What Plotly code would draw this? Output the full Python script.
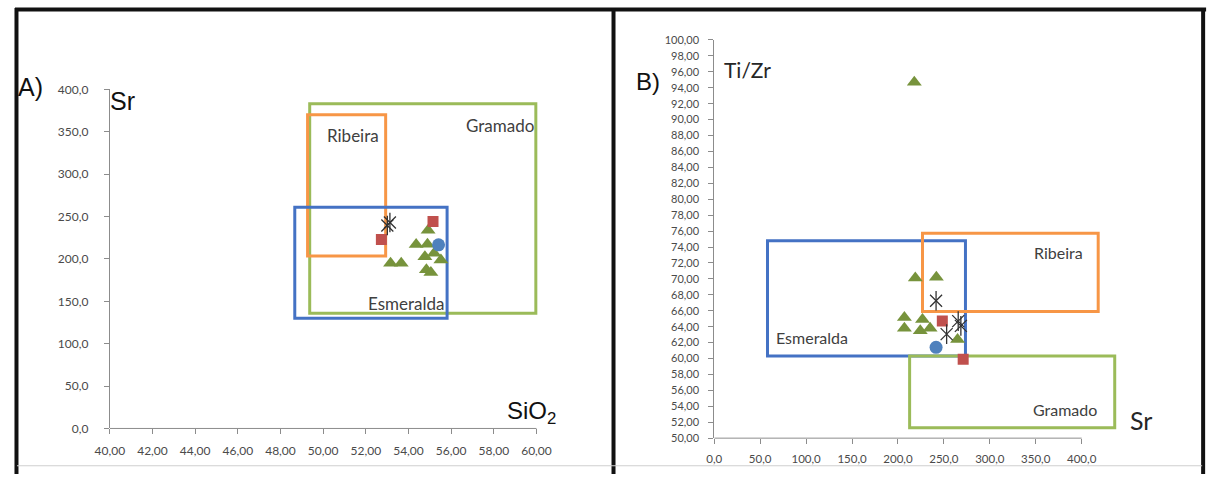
import plotly.graph_objects as go

# ---------------- Panel A: Sr vs SiO2 ----------------
a_tri_x = [54.92, 54.36, 54.89, 53.16, 53.66, 54.77, 55.20, 55.52, 54.84, 55.05]
a_tri_y = [233.7, 217.1, 217.4, 195.0, 195.0, 202.7, 206.6, 198.8, 187.2, 184.1]
a_sq_x = [55.15, 52.73]
a_sq_y = [244.2, 222.9]
a_circ_x = [55.41]
a_circ_y = [216.6]
a_star_x = [53.01, 53.13]
a_star_y = [239.5, 243.0]

# field boxes: (name, x0, x1, y0, y1)
a_boxes = [
    ("Gramado", 49.37, 59.97, 136.0, 383.0),
    ("Ribeira", 49.27, 52.93, 203.5, 370.0),
    ("Esmeralda", 48.67, 55.81, 130.0, 261.0),
]
a_xticks = [40, 42, 44, 46, 48, 50, 52, 54, 56, 58, 60]
a_yticks = [0, 50, 100, 150, 200, 250, 300, 350, 400]

# ---------------- Panel B: Ti/Zr vs Sr ----------------
b_tri_x = [217.8, 218.9, 241.8, 207.0, 207.0, 226.7, 224.3, 235.0, 264.9]
b_tri_y = [94.7, 70.1, 70.2, 65.15, 63.8, 64.9, 63.5, 63.8, 62.4]
b_sq_x = [248.3, 271.0]
b_sq_y = [64.7, 59.9]
b_circ_x = [241.5]
b_circ_y = [61.4]
b_star_x = [241.5, 265.6, 268.5, 253.0]
b_star_y = [67.25, 64.7, 64.1, 63.06]

b_boxes = [
    ("Esmeralda", 58.0, 273.5, 60.33, 74.8),
    ("Ribeira", 226.7, 418.0, 65.9, 75.73),
    ("Gramado", 212.7, 436.0, 51.3, 60.33),
]
b_xticks = [0, 50, 100, 150, 200, 250, 300, 350, 400]
b_yticks = list(range(50, 101, 2))

W, H = 1214, 481
GREEN = "#77933C"
RED = "#C0504D"
BLUE = "#4F81BD"
STAR = "#333333"
BOX_COLORS = {"Gramado": "#9BBB59", "Ribeira": "#F79646", "Esmeralda": "#4472C4"}
AXIS_GRAY = "#8C8C8C"
SANS = "Lato, Open Sans, sans-serif"
ARIAL = "Liberation Sans, Arial, sans-serif"
TICK_FONT = dict(family=SANS, size=12, color="#4A4A4A")


def px_x(p):
    return p / W


def px_y(p):
    return (H - p) / H


fig = go.Figure()


def add_points(tx, ty, sx, sy, cx, cy, stx, sty, xa, ya):
    fig.add_trace(go.Scatter(x=tx, y=ty, mode="markers", xaxis=xa, yaxis=ya,
                             marker=dict(symbol="triangle-up", size=13, color=GREEN)))
    fig.add_trace(go.Scatter(x=sx, y=sy, mode="markers", xaxis=xa, yaxis=ya,
                             marker=dict(symbol="square", size=11, color=RED)))
    fig.add_trace(go.Scatter(x=cx, y=cy, mode="markers", xaxis=xa, yaxis=ya,
                             marker=dict(symbol="circle", size=13, color=BLUE)))
    # six-armed star: an x plus a vertical stroke
    fig.add_trace(go.Scatter(x=stx, y=sty, mode="markers", xaxis=xa, yaxis=ya,
                             marker=dict(symbol="x-thin-open", size=12, color=STAR,
                                         line=dict(color=STAR, width=1.3))))
    fig.add_trace(go.Scatter(x=stx, y=sty, mode="markers", xaxis=xa, yaxis=ya,
                             marker=dict(symbol="line-ns-open", size=14, color=STAR,
                                         line=dict(color=STAR, width=1.3))))


# boxes drawn first so markers sit on top
for name, x0, x1, y0, y1 in a_boxes:
    fig.add_shape(type="rect", xref="x", yref="y", x0=x0, x1=x1, y0=y0, y1=y1,
                  line=dict(color=BOX_COLORS[name], width=3), layer="below")
for name, x0, x1, y0, y1 in b_boxes:
    fig.add_shape(type="rect", xref="x2", yref="y2", x0=x0, x1=x1, y0=y0, y1=y1,
                  line=dict(color=BOX_COLORS[name], width=3), layer="below")

add_points(a_tri_x, a_tri_y, a_sq_x, a_sq_y, a_circ_x, a_circ_y,
           a_star_x, a_star_y, "x", "y")
add_points(b_tri_x, b_tri_y, b_sq_x, b_sq_y, b_circ_x, b_circ_y,
           b_star_x, b_star_y, "x2", "y2")

# pixel geometry of the two plot areas
A_X0, A_PPU = 96.0, 21.6           # x=40 at 96 px
A_XMAX = 61.0
A_Y0PX, A_Y400PX = 434.0, 84.0
B_X0, B_PPU = 708.0, 0.93          # x=0 at 708 px
B_XMAX = 440.0
B_Y50PX, B_Y100PX = 444.0, 33.0

axis_common = dict(showgrid=False, zeroline=False, ticks="outside", ticklen=5,
                   tickcolor=AXIS_GRAY, tickfont=TICK_FONT, fixedrange=True)

fig.update_layout(
    width=W, height=H, margin=dict(l=0, r=0, t=0, b=0),
    paper_bgcolor="white", plot_bgcolor="white", showlegend=False,
    separators=", ",
    xaxis=dict(domain=[px_x(A_X0), px_x(A_X0 + (A_XMAX - 40) * A_PPU)],
               range=[40, A_XMAX], tickvals=a_xticks, tickformat=".2f",
               showline=False, anchor="y", ticklabelstandoff=6, **axis_common),
    yaxis=dict(domain=[px_y(A_Y0PX), px_y(A_Y400PX)], range=[0, 400],
               tickvals=a_yticks, tickformat=".1f", showline=True,
               linecolor=AXIS_GRAY, linewidth=1, anchor="x", ticklabelstandoff=13,
               **axis_common),
    xaxis2=dict(domain=[px_x(B_X0), px_x(B_X0 + B_XMAX * B_PPU)],
                range=[0, B_XMAX], tickvals=b_xticks, tickformat=".1f",
                showline=False, anchor="y2", ticklabelstandoff=5,
                **{**axis_common, "tickfont": dict(TICK_FONT, size=11.5)}),
    yaxis2=dict(domain=[px_y(B_Y50PX), px_y(B_Y100PX)], range=[50, 100],
                tickvals=b_yticks, tickformat=".2f", showline=True,
                linecolor=AXIS_GRAY, linewidth=1, anchor="x2", ticklabelstandoff=7,
                **{**axis_common, "tickfont": dict(TICK_FONT, size=11)}),
)

# horizontal axis lines that stop at the last tick
fig.add_shape(type="line", xref="x", yref="paper", x0=40, x1=60,
              y0=px_y(A_Y0PX), y1=px_y(A_Y0PX), line=dict(color=AXIS_GRAY, width=1))
fig.add_shape(type="line", xref="x2", yref="paper", x0=0, x1=400,
              y0=px_y(B_Y50PX), y1=px_y(B_Y50PX), line=dict(color=AXIS_GRAY, width=1))

# panel frames
frame = dict(color="#111111", width=4)
fig.add_shape(type="line", xref="paper", yref="paper", x0=0, x1=px_x(1206),
              y0=px_y(1.5), y1=px_y(1.5), line=frame)
for xp in (1.5, 606, 1203):
    fig.add_shape(type="line", xref="paper", yref="paper", x0=px_x(xp), x1=px_x(xp),
                  y0=px_y(0), y1=px_y(481), line=frame)
fig.add_shape(type="line", xref="paper", yref="paper", x0=px_x(2), x1=px_x(1202),
              y0=px_y(472.5), y1=px_y(472.5), line=dict(color="#CFCFCF", width=1))

# box labels
LABEL_A = dict(family=SANS, size=17, color="#404040")
LABEL_B = dict(family=SANS, size=16, color="#404040")
for name, x, y in [("Ribeira", 51.39, 346), ("Gramado", 58.28, 357), ("Esmeralda", 53.90, 148)]:
    fig.add_annotation(x=x, y=y, xref="x", yref="y", text=name, showarrow=False,
                       font=LABEL_A)
for name, x, y in [("Ribeira", 375, 73.35), ("Esmeralda", 106, 62.6), ("Gramado", 382, 53.6)]:
    fig.add_annotation(x=x, y=y, xref="x2", yref="y2", text=name, showarrow=False,
                       font=LABEL_B)

# panel letters and axis titles
texts = [
    ("A)", 16, 82, dict(family=ARIAL, size=25, color="#111111")),
    ("Sr", 109, 96, dict(family=ARIAL, size=25, color="#111111")),
    ("SiO<sub>2</sub>", 523, 418, dict(family=ARIAL, size=24, color="#111111")),
    ("B)", 641, 76, dict(family=ARIAL, size=24, color="#111111")),
    ("Ti/Zr", 742, 63, dict(family=SANS, size=21, color="#262626")),
    ("Sr", 1140, 425, dict(family=SANS, size=25, color="#262626")),
]
for t, x, y, f in texts:
    fig.add_annotation(x=px_x(x), y=px_y(y), xref="paper", yref="paper", text=t,
                       showarrow=False, font=f, xanchor="center", yanchor="middle")

fig.write_html("out.html")
